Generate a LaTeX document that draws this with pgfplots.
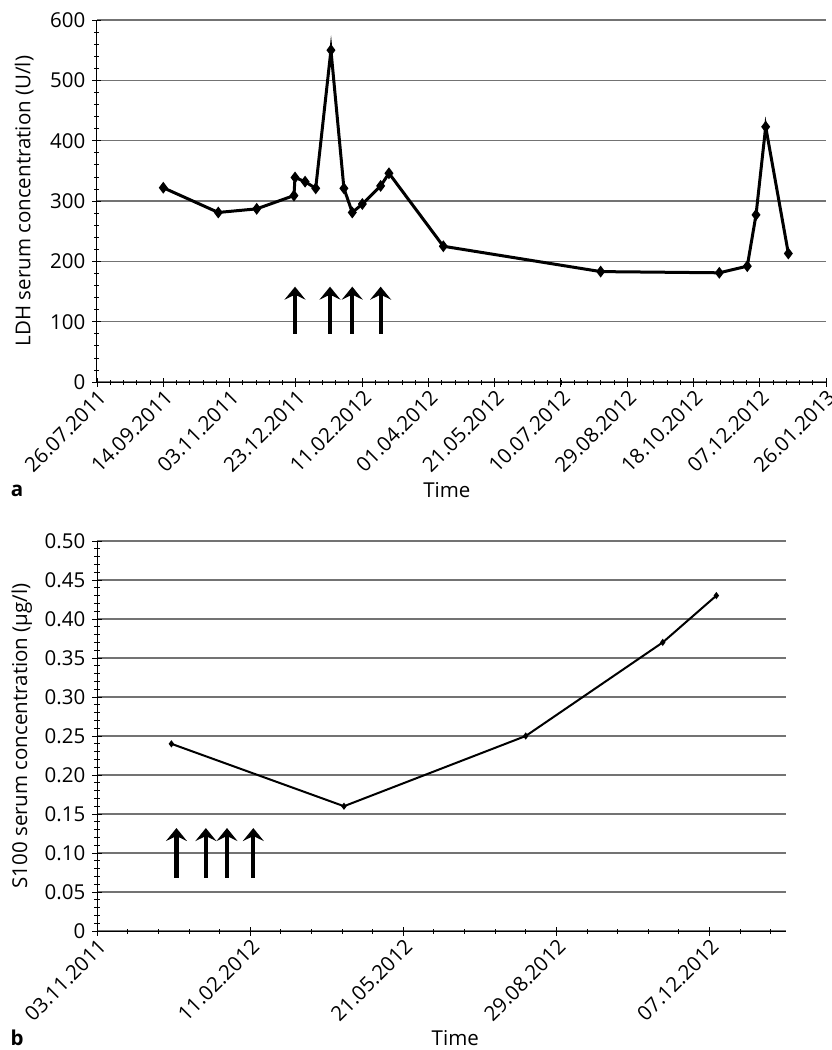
\documentclass[border=0pt]{standalone}
\usepackage{fontspec}
\setmainfont{Open Sans}
\usepackage{pgfplots}
\pgfplotsset{compat=1.18}
\usetikzlibrary{arrows.meta}

\newcommand{\bigf}{\fontsize{20.5}{24}\selectfont}
\pgfplotsset{
  myax/.style={
    scale only axis,
    font=\bigf,
    tick label style={font=\bigf},
    label style={font=\bigf},
    axis x line=bottom, axis y line=left,
    axis line style={-, line width=1pt, black},
    ymajorgrids, grid style={black!55, line width=1.4pt},
    tick align=center,
    major tick length=9pt, minor tick length=5pt,
    tick style={black, line width=0.9pt},
    minor tick style={black, line width=0.7pt},
    xticklabel style={rotate=45, anchor=north east, inner sep=1.5pt},
    yticklabel style={anchor=east, inner sep=3pt, xshift=-4pt},
    clip=false,
  },
  arr/.style={black, line width=4.2pt, -{Stealth[length=13pt,width=21pt,inset=5pt]}, forget plot},
}

\begin{document}
\bigf
\begin{tikzpicture}[font=\bigf]
\useasboundingbox (0pt,0pt) rectangle (831pt,-1050pt);

% ---------- panel a ----------
\begin{axis}[myax,
  at={(97pt,-20pt)}, anchor=north west,
  width=729pt, height=362pt,
  xmin=0, xmax=550, ymin=0, ymax=600,
  xtick={0,50,...,550},
  xticklabels={26.07.2011,14.09.2011,03.11.2011,23.12.2011,11.02.2012,01.04.2012,21.05.2012,10.07.2012,29.08.2012,18.10.2012,07.12.2012,26.01.2013},
  minor xtick={0,10,...,550},
  ytick={0,100,...,600},
  yticklabels={0,100,200,300,400,500,600},
  minor ytick={0,20,...,600},
  xlabel={Time},
  xlabel style={at={(axis description cs:0.48,0)}, anchor=base, yshift=-115pt},
  ylabel={LDH serum concentration (U/l)},
  ylabel style={at={(axis description cs:-0.1,0.5)}, anchor=center},
]
\addplot[black, line width=3pt, mark=diamond*, mark size=3.5pt, mark options={solid}] coordinates {
(50,322) (91.5,281) (120.5,287) (148.6,309) (149.4,339) (157,332) (165,321)
(176.5,550) (186.3,321) (192.6,281) (200.2,295) (214,325) (220.3,346)
(261.3,225) (380,183) (469.5,181) (490.6,192) (497.2,277) (504.5,423) (521.6,213)
};
\addplot[arr] coordinates {(149.4,80) (149.4,158)};
\addplot[arr] coordinates {(175.8,80) (175.8,158)};
\addplot[arr] coordinates {(192.6,80) (192.6,158)};
\addplot[arr] coordinates {(214,80) (214,158)};
\end{axis}

% ---------- panel b ----------
\begin{axis}[myax,
  at={(97pt,-541pt)}, anchor=north west,
  width=689pt, height=390pt,
  xmin=100, xmax=550, ymin=0, ymax=0.5,
  xtick={100,200,...,500},
  xticklabels={03.11.2011,11.02.2012,21.05.2012,29.08.2012,07.12.2012},
  minor xtick={100,120,...,540},
  ytick={0,0.05,0.1,0.15,0.2,0.25,0.3,0.35,0.4,0.45,0.5},
  yticklabels={0,0.05,0.10,0.15,0.20,0.25,0.30,0.35,0.40,0.45,0.50},
  minor y tick num=4,
  xlabel={Time},
  xlabel style={at={(axis description cs:0.52,0)}, anchor=base, yshift=-114pt},
  ylabel={S100 serum concentration (µg/l)},
  ylabel style={at={(axis description cs:-0.109,0.5)}, anchor=center},
]
\addplot[black, line width=2pt, mark=diamond*, mark size=2pt, mark options={solid}] coordinates {
(148.6,0.24) (261.3,0.16) (380,0.25) (469.5,0.37) (504.5,0.43)
};
\addplot[arr] coordinates {(151.9,0.068) (151.9,0.132)};
\addplot[arr] coordinates {(171.1,0.068) (171.1,0.132)};
\addplot[arr] coordinates {(184.9,0.068) (184.9,0.132)};
\addplot[arr] coordinates {(202.1,0.068) (202.1,0.132)};
\end{axis}

\node[font=\bigf\bfseries, anchor=base] at (17pt,-496pt) {a};
\node[font=\bigf\bfseries, anchor=base] at (17pt,-1045pt) {b};
\end{tikzpicture}
\end{document}
